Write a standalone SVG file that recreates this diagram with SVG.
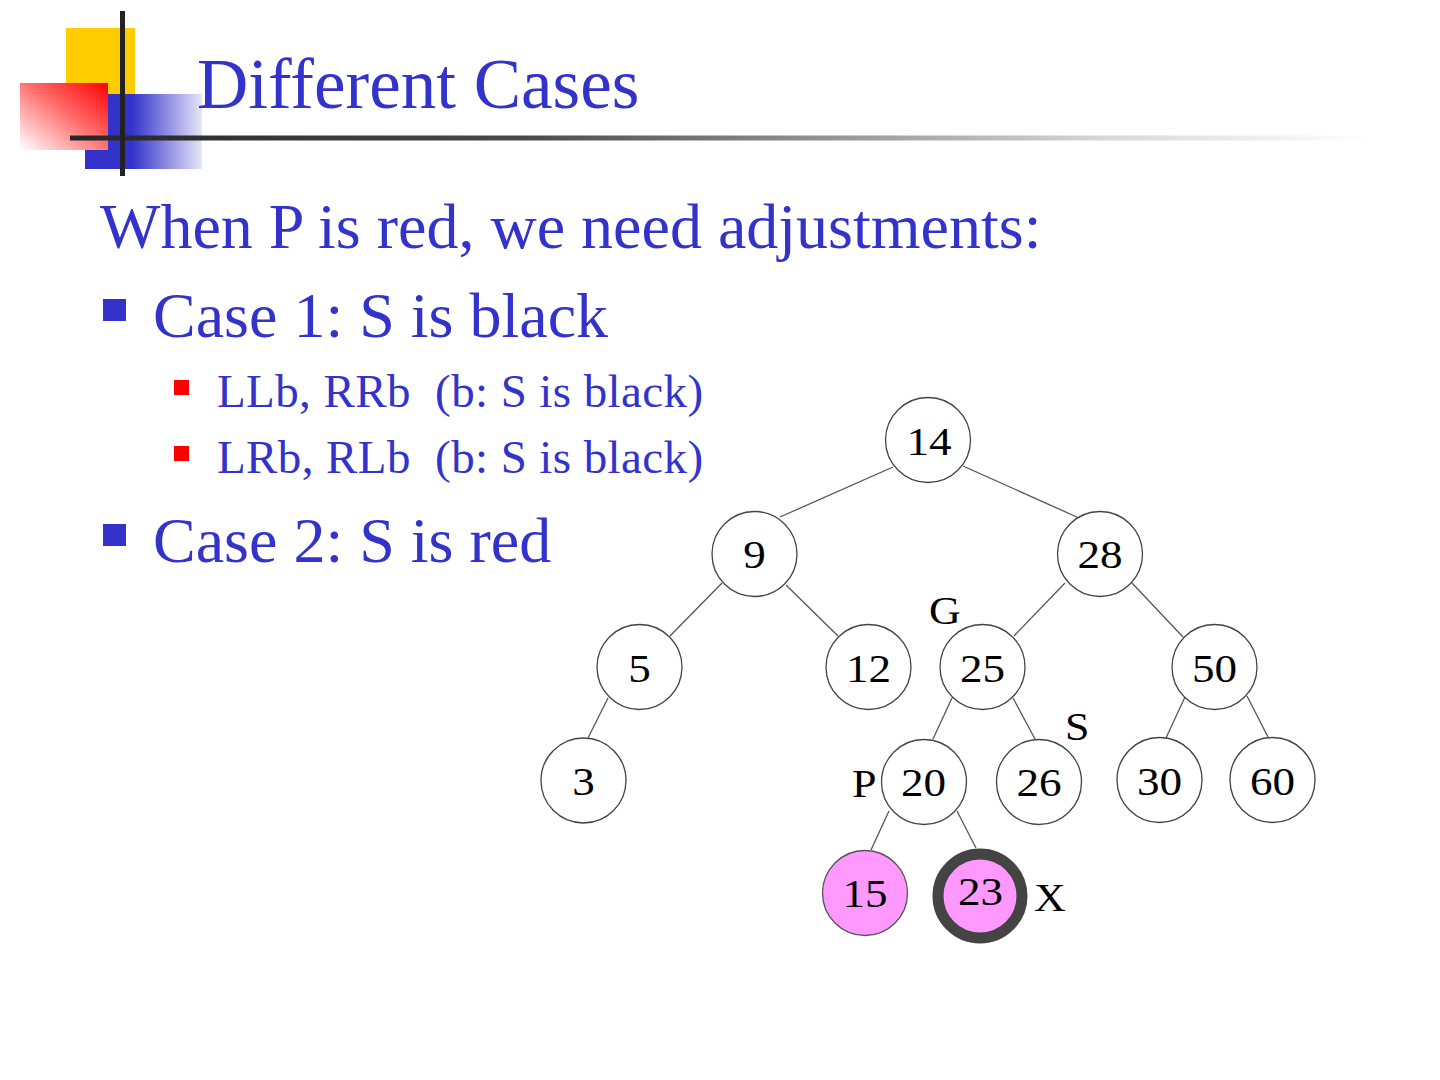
<svg xmlns="http://www.w3.org/2000/svg" width="1440" height="1080" viewBox="0 0 1440 1080">
<style>
.body{font-family:"Liberation Serif","Times New Roman",serif;fill:#3333cc}
.lbl{font-family:"Liberation Serif","Times New Roman",serif;fill:#000;font-size:41px;text-anchor:middle}
.tag{font-family:"Liberation Serif","Times New Roman",serif;fill:#000;font-size:40px}
.node{fill:#fff;stroke:#444;stroke-width:1.3}
.pink{fill:#ff99ff;stroke:#555;stroke-width:1.3}
.edge{stroke:#555;stroke-width:1.3;fill:none}
</style>
<defs>
<linearGradient id="gRed" x1="0" y1="1" x2="1" y2="0">
<stop offset="0" stop-color="#ffffff"/>
<stop offset="0.55" stop-color="#ff6a6a"/>
<stop offset="1" stop-color="#ff0000"/>
</linearGradient>
<linearGradient id="gBlue" x1="0" y1="0" x2="1" y2="0">
<stop offset="0" stop-color="#3333cc"/>
<stop offset="0.4" stop-color="#3333cc"/>
<stop offset="1" stop-color="#e6e6f8"/>
</linearGradient>
<linearGradient id="gLine" gradientUnits="userSpaceOnUse" x1="70" y1="0" x2="1370" y2="0">
<stop offset="0" stop-color="#262626"/>
<stop offset="0.35" stop-color="#4a4a4a"/>
<stop offset="0.8" stop-color="#d8d8d8"/>
<stop offset="1" stop-color="#ffffff"/>
</linearGradient>
</defs>
<rect width="1440" height="1080" fill="#fff"/>
<g id="logo">
<rect x="66" y="28" width="69" height="66" fill="#ffcc00"/>
<rect x="85" y="94" width="117" height="75" fill="url(#gBlue)"/>
<rect x="20" y="83" width="88" height="67" fill="url(#gRed)"/>
<rect x="70" y="135.5" width="1300" height="5" fill="url(#gLine)"/>
<rect x="120" y="11" width="5" height="165" fill="#222"/>
</g>
<text class="body" x="197" y="108" font-size="71">Different Cases</text>
<text class="body" x="100" y="248" font-size="64">When P is red, we need adjustments:</text>
<rect x="103" y="299" width="23" height="22" fill="#3333cc"/>
<text class="body" x="153" y="337" font-size="64">Case 1: S is black</text>
<rect x="174" y="380" width="15" height="15" fill="#ff0000"/>
<text class="body" x="217" y="407" font-size="47" letter-spacing="0.4" xml:space="preserve">LLb, RRb  (b: S is black)</text>
<rect x="174" y="446" width="15" height="15" fill="#ff0000"/>
<text class="body" x="217" y="473" font-size="47" letter-spacing="0.4" xml:space="preserve">LRb, RLb  (b: S is black)</text>
<rect x="103" y="524" width="23" height="22" fill="#3333cc"/>
<text class="body" x="153" y="562" font-size="64">Case 2: S is red</text>
<g id="connectors">
<line class="edge" x1="893" y1="467" x2="780" y2="517"/>
<line class="edge" x1="963" y1="466" x2="1079" y2="518"/>
<line class="edge" x1="722" y1="583" x2="670" y2="636"/>
<line class="edge" x1="786" y1="585" x2="838" y2="636"/>
<line class="edge" x1="1065" y1="583" x2="1014" y2="636"/>
<line class="edge" x1="1132" y1="583" x2="1183" y2="637"/>
<line class="edge" x1="608" y1="698" x2="588" y2="738"/>
<line class="edge" x1="952" y1="698" x2="933" y2="739"/>
<line class="edge" x1="1013" y1="698" x2="1035" y2="739"/>
<line class="edge" x1="1185" y1="697" x2="1166" y2="738"/>
<line class="edge" x1="1247" y1="696" x2="1268" y2="737"/>
<line class="edge" x1="889" y1="811" x2="871" y2="850"/>
<line class="edge" x1="957" y1="811" x2="976" y2="848"/>
</g>
<g id="n14"><circle class="node" cx="928" cy="440" r="42.5"/><text class="lbl" transform="translate(929 455) scale(1.1 1)">14</text></g>
<g id="n9"><circle class="node" cx="754.5" cy="554" r="42.5"/><text class="lbl" transform="translate(754.5 568) scale(1.1 1)">9</text></g>
<g id="n28"><circle class="node" cx="1100" cy="554" r="42.5"/><text class="lbl" transform="translate(1100 568) scale(1.1 1)">28</text></g>
<g id="n5"><circle class="node" cx="639.5" cy="667" r="42.5"/><text class="lbl" transform="translate(639.5 682) scale(1.1 1)">5</text></g>
<g id="n12"><circle class="node" cx="868.5" cy="667" r="42.5"/><text class="lbl" transform="translate(868.5 682) scale(1.1 1)">12</text></g>
<g id="n25"><circle class="node" cx="982.5" cy="667" r="42.5"/><text class="lbl" transform="translate(982.5 682) scale(1.1 1)">25</text></g>
<g id="n50"><circle class="node" cx="1214.5" cy="667" r="42.5"/><text class="lbl" transform="translate(1214.5 682) scale(1.1 1)">50</text></g>
<g id="n3"><circle class="node" cx="583.5" cy="780.5" r="42.5"/><text class="lbl" transform="translate(583.5 795) scale(1.1 1)">3</text></g>
<g id="n20"><circle class="node" cx="924" cy="782" r="42.5"/><text class="lbl" transform="translate(923.5 796) scale(1.1 1)">20</text></g>
<g id="n26"><circle class="node" cx="1039" cy="782" r="42.5"/><text class="lbl" transform="translate(1039 796) scale(1.1 1)">26</text></g>
<g id="n30"><circle class="node" cx="1159.5" cy="780" r="42.5"/><text class="lbl" transform="translate(1159.5 795) scale(1.1 1)">30</text></g>
<g id="n60"><circle class="node" cx="1272.5" cy="780" r="42.5"/><text class="lbl" transform="translate(1272.5 795) scale(1.1 1)">60</text></g>
<g id="n15"><circle class="pink" cx="865" cy="893" r="42.5"/><text class="lbl" transform="translate(865 907) scale(1.1 1)">15</text></g>
<g id="n23"><circle cx="980" cy="896" r="42" fill="#ff99ff" stroke="#444" stroke-width="11"/><text class="lbl" transform="translate(980.5 905) scale(1.1 1)">23</text></g>
<g id="labels">
<text class="tag" transform="translate(929 624) scale(1.1 1)">G</text>
<text class="tag" transform="translate(1065 740) scale(1.1 1)">S</text>
<text class="tag" transform="translate(852 797) scale(1.1 1)">P</text>
<text class="tag" transform="translate(1034 911) scale(1.1 1)">X</text>
</g>
</svg>
